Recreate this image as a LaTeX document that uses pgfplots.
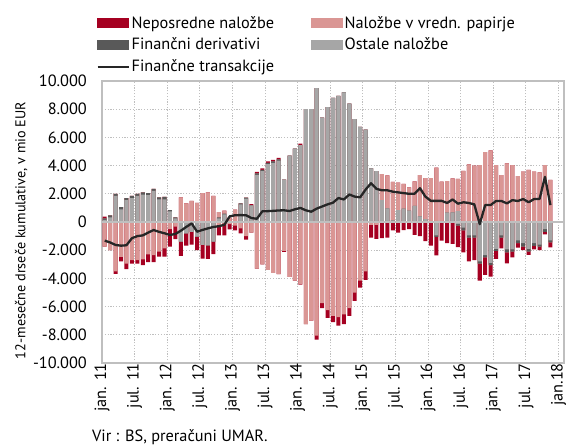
\documentclass[border=0pt]{standalone}
\usepackage{pgfplots}
\pgfplotsset{compat=1.18}
\usepackage{pgfplotstable}
\usepackage{fontspec}
\setmainfont{PT Sans}

\definecolor{cRed}{HTML}{A50021}
\definecolor{cPink}{HTML}{DA9694}
\definecolor{cDk}{HTML}{595959}
\definecolor{cGr}{HTML}{A6A6A6}
\definecolor{cLn}{HTML}{262626}
\definecolor{cAx}{HTML}{BFBFBF}

% cumulative boundaries from zero: gray -> dark gray -> pink -> red
\pgfplotstableread{
x gp dp pp rp gn dn pn rn ln
0.5 150 250 250 380 0 0 -1750 -1750 -1320
1.5 330 470 470 470 0 0 -2000 -2000 -1450
2.5 1850 2000 2000 2000 0 0 -3500 -3680 -1630
3.5 900 1060 1060 1060 0 0 -2480 -2800 -1680
4.5 1550 1700 1700 1700 0 0 -2950 -3350 -1650
5.5 1700 1850 1850 1850 0 0 -2700 -2950 -1150
6.5 1850 2000 2000 2000 0 0 -2700 -2950 -1000
7.5 1950 2100 2100 2100 0 0 -2650 -3050 -950
8.5 1900 2050 2050 2050 0 0 -2300 -2850 -750
9.5 2200 2350 2350 2350 0 0 -2350 -2850 -570
10.5 1600 1750 1750 1750 0 0 -2100 -2450 -700
11.5 1600 1780 1780 1780 0 0 -1870 -2450 -800
12.5 750 850 850 850 0 0 -500 -1750 -920
13.5 250 330 330 330 0 0 -330 -1220 -850
14.5 0 0 1750 1750 -1400 -1400 -1400 -2400 -620
15.5 0 0 1320 1320 -800 -800 -800 -1680 -350
16.5 0 0 1500 1500 -700 -700 -700 -1600 -100
17.5 0 0 1350 1350 -1030 -1030 -1030 -2000 -690
18.5 0 0 2050 2050 -1620 -1620 -1620 -2600 -560
19.5 0 0 2100 2100 -1650 -1650 -1650 -2620 -450
20.5 0 0 1850 1850 -1400 -1400 -1400 -2270 -350
21.5 250 320 700 700 0 0 -200 -950 -300
22.5 540 600 800 800 0 0 -120 -950 -200
23.5 0 0 310 310 0 0 -150 -520 400
24.5 0 0 870 870 0 0 -250 -600 480
25.5 1250 1320 1320 1320 0 0 -450 -800 490
26.5 1650 1720 1720 1720 0 0 -1000 -1250 480
27.5 1180 1180 1180 1270 0 0 -750 -750 280
28.5 3350 3450 3450 3550 0 0 -3300 -3300 230
29.5 3600 3700 3700 3800 0 0 -3000 -3000 760
30.5 4100 4200 4200 4300 0 0 -3400 -3400 770
31.5 4200 4300 4300 4400 0 0 -3600 -3600 790
32.5 4350 4450 4450 4550 0 0 -3700 -3700 820
33.5 3000 3000 3000 3000 0 0 -2050 -2120 830
34.5 4700 4700 4700 4700 0 0 -3900 -3900 780
35.5 5200 5200 5200 5200 0 0 -4150 -4150 900
36.5 5450 5450 5450 5550 0 0 -4400 -4450 1000
37.5 8000 8000 8000 8000 0 0 -7250 -7250 830
38.5 8000 8000 8000 8000 0 0 -7000 -7000 730
39.5 9500 9500 9500 9500 0 0 -8050 -8350 950
40.5 7400 7400 7400 7400 0 0 -5750 -6100 1100
41.5 8150 8150 8150 8150 0 0 -6250 -6800 1250
42.5 8800 8800 8800 8800 0 0 -6650 -7100 1370
43.5 8950 8950 8950 8950 0 0 -6750 -7350 1700
44.5 9200 9200 9200 9200 0 0 -6550 -7250 1600
45.5 8400 8400 8400 8400 0 0 -6100 -6650 1950
46.5 7300 7300 7300 7300 0 0 -5000 -5600 1800
47.5 6750 6750 6750 6750 0 0 -4150 -4650 1750
48.5 6550 6550 6550 6550 0 0 -3500 -4100 2300
49.5 3800 3800 3800 3800 0 0 -200 -1100 2750
50.5 3600 3600 3600 3600 0 0 -200 -1200 2350
51.5 1550 1550 3400 3400 0 0 0 -1150 2250
52.5 970 970 3300 3300 0 0 0 -1100 2250
53.5 120 120 2850 2850 0 0 0 -600 2150
54.5 850 850 2800 2800 0 0 0 -750 2100
55.5 950 950 2700 2700 0 0 0 -580 2050
56.5 800 800 2450 2450 0 0 0 -500 2000
57.5 1150 1150 2880 2880 0 0 0 -920 2000
58.5 400 400 3330 3330 0 0 0 -1000 2400
59.5 200 200 3120 3120 0 0 0 -1350 1800
60.5 0 0 3120 3120 0 0 0 -1680 1500
61.5 0 0 3850 3850 -950 -1050 -1050 -2370 1500
62.5 0 0 2860 2860 0 0 0 -1320 1500
63.5 660 660 2900 2900 0 0 0 -1500 1350
64.5 690 690 3100 3100 0 0 0 -1550 1600
65.5 780 780 3050 3050 -150 -250 -250 -1780 1300
66.5 0 0 3630 3630 -400 -600 -600 -2150 1400
67.5 0 0 4090 4090 -950 -1100 -1100 -2800 1350
68.5 0 0 4000 4000 -950 -1100 -1100 -2700 1250
69.5 0 0 4040 4040 -2800 -2950 -2950 -4150 -150
70.5 0 0 4950 4950 -2350 -2500 -2500 -3750 1200
71.5 0 0 5080 5080 -2900 -3050 -3050 -3880 1200
72.5 0 0 4040 4040 -1900 -2050 -2050 -2620 1490
73.5 0 0 3330 3330 -950 -1100 -1100 -1870 1490
74.5 0 0 4160 4160 -1950 -2150 -2150 -2930 1320
75.5 0 0 4040 4040 -1950 -2100 -2100 -2500 1550
76.5 0 0 3260 3260 -1300 -1500 -1500 -1820 1490
77.5 0 0 3570 3570 -1500 -1750 -1750 -1990 1630
78.5 0 0 3690 3690 -1900 -2100 -2100 -2340 1400
79.5 0 0 3570 3570 -1500 -1700 -1700 -1940 1630
80.5 0 0 3520 3520 -1600 -1750 -1750 -1990 1630
81.5 0 0 4040 4040 -500 -700 -700 -870 3200
82.5 0 0 2980 2980 -1300 -1450 -1450 -1800 1200
}\data

\pgfplotsset{
  barst/.style={ybar, bar width=0.74, bar shift=0pt, draw=none, forget plot},
}

\begin{document}
\begin{tikzpicture}[font=\fontsize{16.3}{19}\selectfont]
\path[use as bounding box] (-102pt,-82pt) rectangle (469pt,363pt);
\begin{axis}[
  at={(0,0)}, anchor=south west,
  scale only axis, width=462pt, height=282pt,
  font=\fontsize{16.3}{19}\selectfont,
  xmin=0, xmax=85, ymin=-10000, ymax=10000,
  xtick={0,6,...,84},
  xticklabels={jan. 11,jul. 11,jan. 12,jul. 12,jan. 13,jul. 13,jan. 14,jul. 14,jan. 15,jul. 15,jan. 16,jul. 16,jan. 17,jul. 17,jan.18},
  ytick={-10000,-8000,...,10000},
  scaled y ticks=false,
  /pgf/number format/1000 sep={.},
  /pgf/number format/assume math mode=true,
  yticklabel style={inner sep=0pt, xshift=-15pt},
  xticklabel style={rotate=90, anchor=east, inner sep=0pt, yshift=0pt},
  tick label style={font=\fontsize{16.3}{19}\selectfont},
  tick style={draw=none},
  grid=major,
  major grid style={cAx, line width=0.9pt, dash pattern=on 1.2pt off 1.6pt},
  axis line style={cAx, line width=1.2pt},
  ylabel={12-mesečne drseče kumulative, v mio EUR},
  ylabel style={at={(axis description cs:-0.175,0.47)}, anchor=center, font=\fontsize{14.2}{17}\selectfont},
  legend columns=2,
  legend cell align=left,
  legend style={at={(axis description cs:-0.012,1.238)}, anchor=north west,
    draw=none, fill=none, inner sep=0pt, row sep=4.5pt,
    font=\fontsize{16.3}{19}\selectfont,
    /tikz/every even column/.append style={column sep=35pt}},
]
% positive side
\addplot[barst, fill=cRed] table[x=x,y=rp]{\data};
\addplot[barst, fill=cPink] table[x=x,y=pp]{\data};
\addplot[barst, fill=cDk] table[x=x,y=dp]{\data};
\addplot[barst, fill=cGr] table[x=x,y=gp]{\data};
% negative side
\addplot[barst, fill=cRed] table[x=x,y=rn]{\data};
\addplot[barst, fill=cPink] table[x=x,y=pn]{\data};
\addplot[barst, fill=cDk] table[x=x,y=dn]{\data};
\addplot[barst, fill=cGr] table[x=x,y=gn]{\data};
% zero line
\addplot[cAx, line width=1.5pt, forget plot] coordinates {(0,0) (85,0)};
% line
\addplot[cLn, line width=2.3pt, line join=round, forget plot] table[x=x,y=ln]{\data};

\addlegendimage{legend image code/.code={\fill[cRed] (0pt,-4.5pt) rectangle (31pt,4.5pt);}}
\addlegendentry{Neposredne naložbe}
\addlegendimage{legend image code/.code={\fill[cPink] (0pt,-4.5pt) rectangle (31pt,4.5pt);}}
\addlegendentry{Naložbe v vredn. papirje}
\addlegendimage{legend image code/.code={\fill[cDk] (0pt,-4.5pt) rectangle (31pt,4.5pt);}}
\addlegendentry{Finančni derivativi}
\addlegendimage{legend image code/.code={\fill[cGr] (0pt,-4.5pt) rectangle (31pt,4.5pt);}}
\addlegendentry{Ostale naložbe}
\addlegendimage{legend image code/.code={\draw[cLn, line width=2pt] (0pt,0pt) -- (31pt,0pt);}}
\addlegendentry{Finančne transakcije}
\end{axis}
\node[anchor=base west, inner sep=0pt] at (-10pt,-78pt) {Vir : BS, preračuni UMAR.};
\end{tikzpicture}
\end{document}
